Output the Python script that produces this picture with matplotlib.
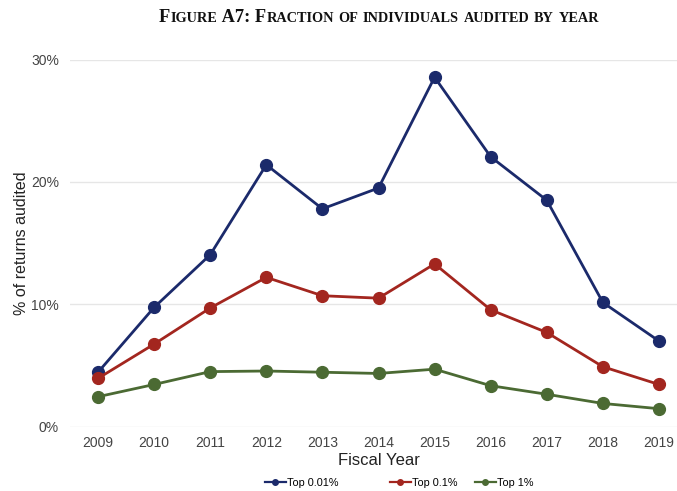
import matplotlib
matplotlib.use("Agg")
import matplotlib.pyplot as plt
from matplotlib.lines import Line2D
from matplotlib.ticker import FuncFormatter, MultipleLocator

years = [2009, 2010, 2011, 2012, 2013, 2014, 2015, 2016, 2017, 2018, 2019]
top_001 = [4.45, 9.75, 14.05, 21.4, 17.8, 19.5, 28.55, 22.05, 18.5, 10.15, 7.0]
top_01 = [3.95, 6.75, 9.7, 12.2, 10.7, 10.5, 13.3, 9.55, 7.7, 4.9, 3.45]
top_1 = [2.45, 3.45, 4.5, 4.55, 4.45, 4.35, 4.7, 3.35, 2.65, 1.9, 1.47]
series_names = ["Top 0.01%", "Top 0.1%", "Top 1%"]
colors = ["#1b2a6b", "#a3261f", "#4b6a33"]
title_text = "Figure A7: Fraction of individuals audited by year"

W, H = 677, 491
fig = plt.figure(figsize=(W / 100, H / 100), dpi=100)
ax = fig.add_axes([70 / W, 1 - 426.7 / H, 617 / W, (426.7 - 59.5) / H])

for vals, name, c in zip([top_001, top_01, top_1], series_names, colors):
    ax.plot(years, vals, color=c, lw=2.0, marker="o", ms=8.5, label=name,
            markeredgecolor=c, markerfacecolor=c)

ax.set_xlim(2008.5, 2019.5)
ax.set_ylim(0, 30)
ax.yaxis.set_major_locator(MultipleLocator(10))
ax.yaxis.set_major_formatter(FuncFormatter(lambda v, p: f"{int(v)}%"))
ax.set_xticks(years)
ax.set_xticklabels([str(y) for y in years])
ax.grid(axis="y", color="#e6e6e6", lw=1.0)
ax.set_axisbelow(True)
for s in ax.spines.values():
    s.set_visible(False)
ax.tick_params(axis="both", length=0, labelsize=10, labelcolor="#444444",
               labelfontfamily="Liberation Sans")
ax.tick_params(axis="x", pad=7)
ax.tick_params(axis="y", pad=8)
ax.set_xlabel("Fiscal Year", fontsize=12, family="Liberation Sans", color="#222222", labelpad=2)
ax.set_ylabel("% of returns audited", fontsize=11.5, family="Liberation Sans", color="#222222", labelpad=1)

# Legend entries placed individually (uneven spacing as in reference)
leg_x = [265, 390, 475]
for name, c, lx in zip(series_names, colors, leg_x):
    h = Line2D([], [], color=c, lw=1.6, marker="o", ms=4, markerfacecolor=c, markeredgecolor=c)
    fig.legend([h], [name], loc="center left", bbox_to_anchor=(lx / W, 1 - 483 / H),
               frameon=False, borderpad=0, borderaxespad=0, handlelength=1.9,
               handletextpad=0.15, prop={"family": "Liberation Sans", "size": 7.8})

# Title in small caps, built from runs
def small_caps_runs(text):
    runs = []
    for ch in text:
        if ch.isupper() or ch.isdigit() or ch in ": ":
            kind, s = "big", ch
        else:
            kind, s = "small", ch.upper()
        if runs and runs[-1][0] == kind:
            runs[-1][1] += s
        else:
            runs.append([kind, s])
    return runs

runs = small_caps_runs(title_text)
fam = "Liberation Serif"
big, small = 13.2, 10.3
fig.canvas.draw()
renderer = fig.canvas.get_renderer()
texts = []
for kind, s in runs:
    size = big if kind == "big" else small
    t = fig.text(0, 1 - 22 / H, s.replace(" ", "\u00a0"), fontsize=size, family=fam,
                 weight="bold", ha="left", va="baseline", color="#111111")
    texts.append(t)

widths = [t.get_window_extent(renderer=renderer).width for t in texts]
total = sum(widths)
cur = 379 - total / 2
for t, w in zip(texts, widths):
    t.set_position((cur / W, 1 - 22 / H))
    cur += w

fig.savefig("out.png", dpi=100, facecolor="white")
